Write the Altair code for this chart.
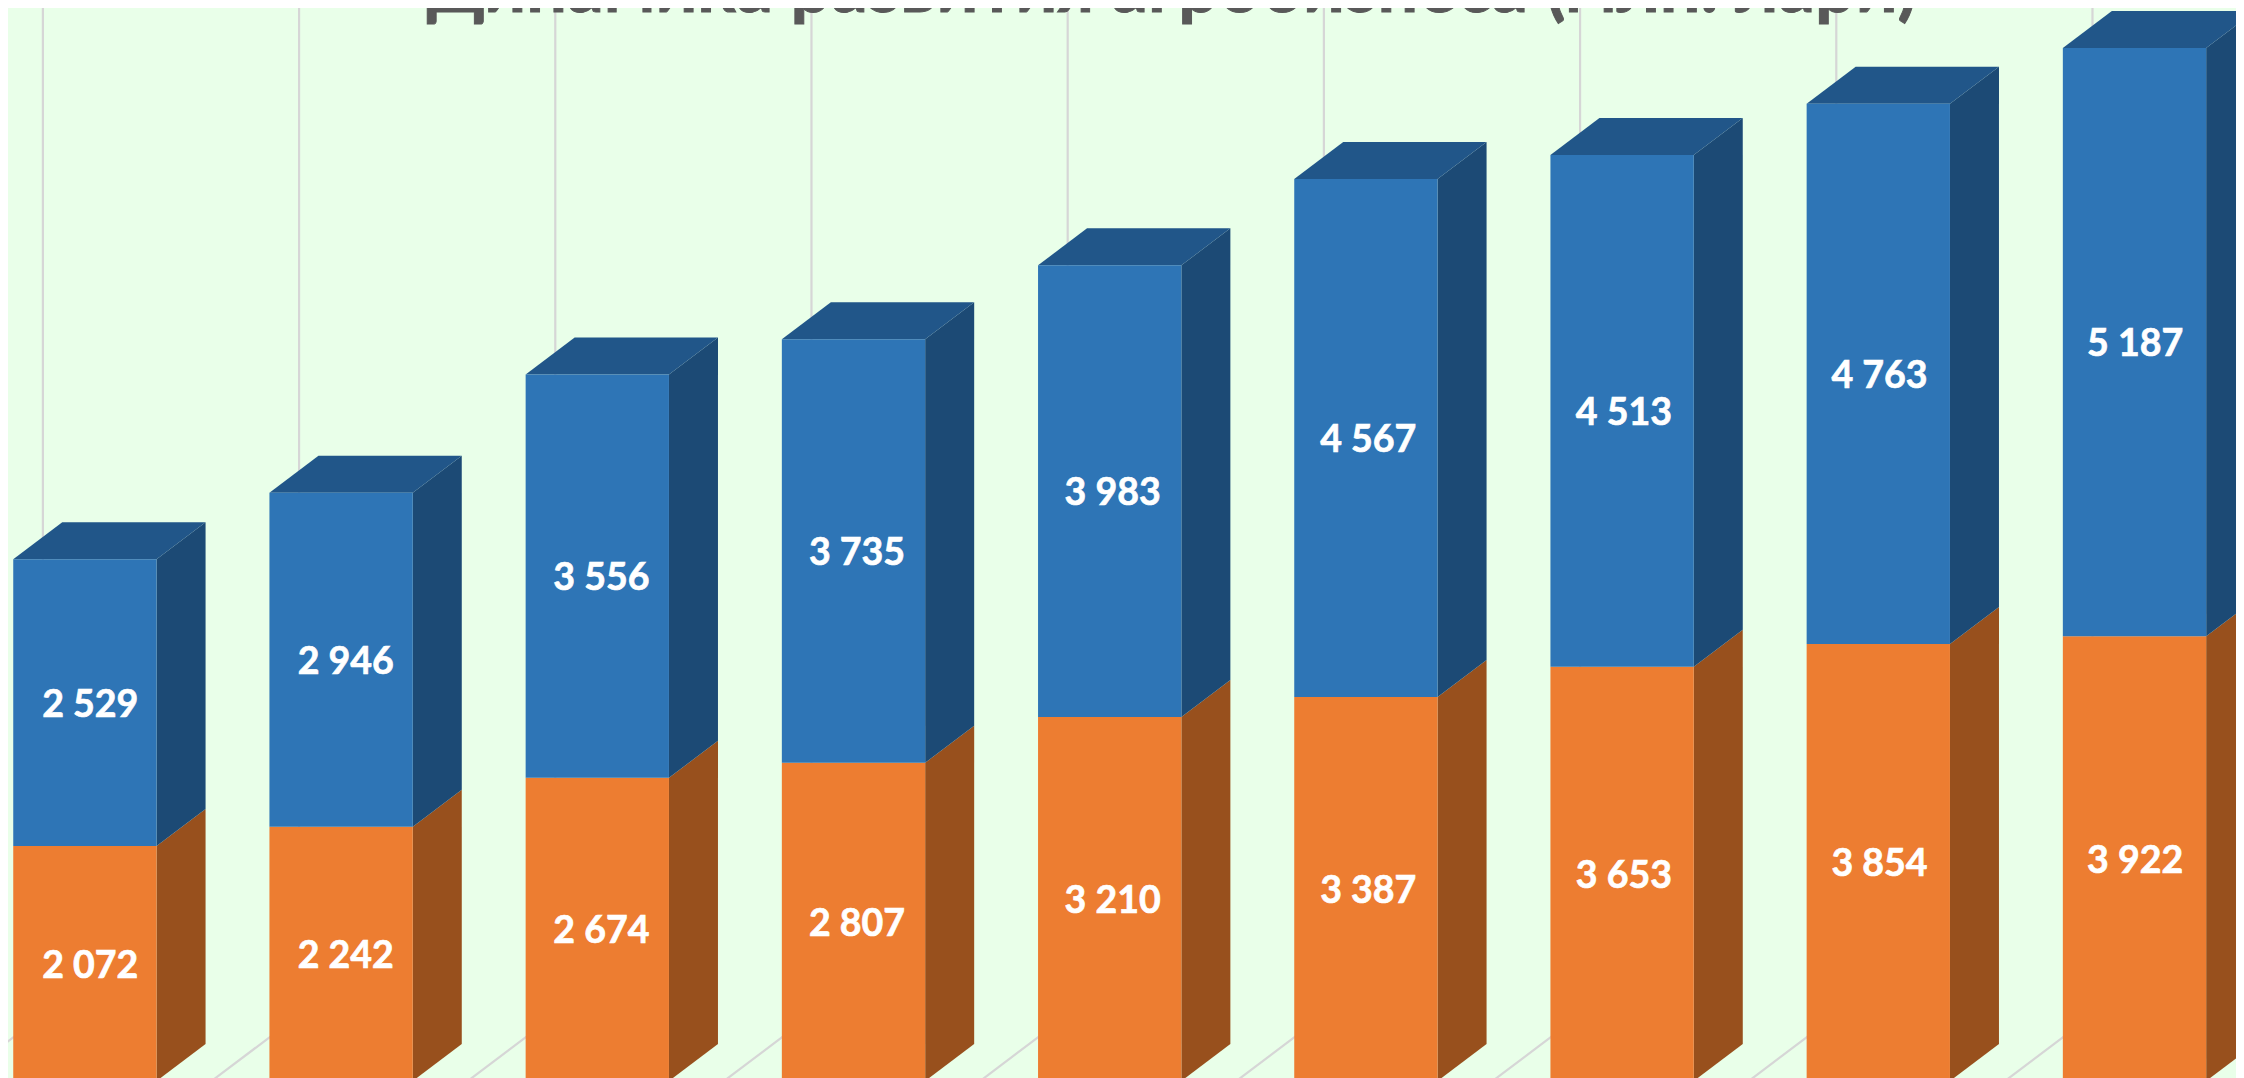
import altair as alt
import pandas as pd

lower = [2072, 2242, 2674, 2807, 3210, 3387, 3653, 3854, 3922]
upper = [2529, 2946, 3556, 3735, 3983, 4567, 4513, 4763, 5187]
title_text = "Динамика развития агробизнеса (млн. лари)"

BG = "#E9FFE9"
W, H = 2228, 1070
PX_X, PX_Y = 256.2, 0.1134
X_DOMAIN = [(8 - 84.9) / PX_X, (8 + W - 84.9) / PX_X]
Y_DOMAIN = [(1081 - 8 - H) / PX_Y, (1081 - 8) / PX_Y]
HALF = 0.2797      # half of bar width, in category units
DX = 0.1913        # depth of a bar, in category units
DY = 326           # depth of a bar, in value units
GRID_OFF = -0.164
FLOOR = 582

x_scale = alt.Scale(domain=X_DOMAIN, nice=False, zero=False)
y_scale = alt.Scale(domain=Y_DOMAIN, nice=False, zero=False)

front, side, top, labels, grid = [], [], [], [], []
for i, (lo, up) in enumerate(zip(lower, upper)):
    l, r = i - HALF, i + HALF
    front.append(dict(x=l, x2=r, y=0, y2=lo, face="orange"))
    front.append(dict(x=l, x2=r, y=lo, y2=lo + up, face="blue"))
    for name, v0, v1 in (("orange", 0, lo), ("blue", lo, lo + up)):
        side.append(dict(id=f"{i}{name}", x=r, y=v0, y2=v1, face=name + "_side"))
        side.append(dict(id=f"{i}{name}", x=r + DX, y=v0 + DY, y2=v1 + DY, face=name + "_side"))
    v = lo + up
    top.append(dict(id=i, y=v, x=l, x2=r, face="blue_top"))
    top.append(dict(id=i, y=v + DY, x=l + DX, x2=r + DX, face="blue_top"))
    lx = i + 0.0207 - 0.0023 * i
    labels.append(dict(x=lx, y=lo / 2, t=f"{lo // 1000} {lo % 1000:03d}"))
    labels.append(dict(x=lx, y=lo + up / 2, t=f"{up // 1000} {up % 1000:03d}"))
    g = i + GRID_OFF
    grid.append(dict(id=i, o=0, x=g, y=Y_DOMAIN[1] + 100))
    grid.append(dict(id=i, o=1, x=g, y=FLOOR))
    grid.append(dict(id=i, o=2, x=g - 3 * DX, y=FLOOR - 3 * DY))

colors = alt.Scale(
    domain=["orange", "blue", "orange_side", "blue_side", "blue_top"],
    range=["#ED7D31", "#2E75B6", "#98501D", "#1C4A75", "#215689"],
)
color = alt.Color("face:N", scale=colors, legend=None)
X = alt.X("x:Q", scale=x_scale, axis=None)
Y = alt.Y("y:Q", scale=y_scale, axis=None, stack=None)

grid_layer = alt.Chart(pd.DataFrame(grid)).mark_line(color="#D6D6D6", strokeWidth=2.2, clip=True).encode(
    x=X, y=Y, detail="id:N", order="o:Q"
)
side_layer = alt.Chart(pd.DataFrame(side)).mark_area(orient="vertical", clip=True).encode(
    x=X, y=Y, y2="y2:Q", color=color, detail="id:N"
)
top_layer = alt.Chart(pd.DataFrame(top)).mark_area(orient="horizontal", clip=True).encode(
    y=Y, x=alt.X("x:Q", scale=x_scale, axis=None, stack=None), x2="x2:Q", color=color, detail="id:N"
)
front_layer = alt.Chart(pd.DataFrame(front)).mark_rect(clip=True).encode(
    x=X, x2="x2:Q", y=Y, y2="y2:Q", color=color
)
label_layer = alt.Chart(pd.DataFrame(labels)).mark_text(
    font="Lato", fontWeight="bold", fontSize=37.5, color="white", stroke="white", strokeWidth=0.7,
    dy=3, baseline="middle", align="center"
).encode(x=X, y=Y, text="t:N")
title_layer = alt.Chart(pd.DataFrame({"t": [title_text]})).mark_text(
    font="Lato", fontWeight="bold", fontSize=72, color="#595959", stroke="#595959", strokeWidth=1,
    baseline="alphabetic", align="center"
).encode(x=alt.value(1164), y=alt.value(4), text="t:N")

chart = alt.layer(grid_layer, title_layer, side_layer, top_layer, front_layer, label_layer).properties(
    width=W, height=H, background=BG, padding=0,
    autosize=alt.AutoSizeParams(type="none"),
).configure_view(stroke=None)

chart.save("out.html", embed_options={"renderer": "svg", "actions": False})
